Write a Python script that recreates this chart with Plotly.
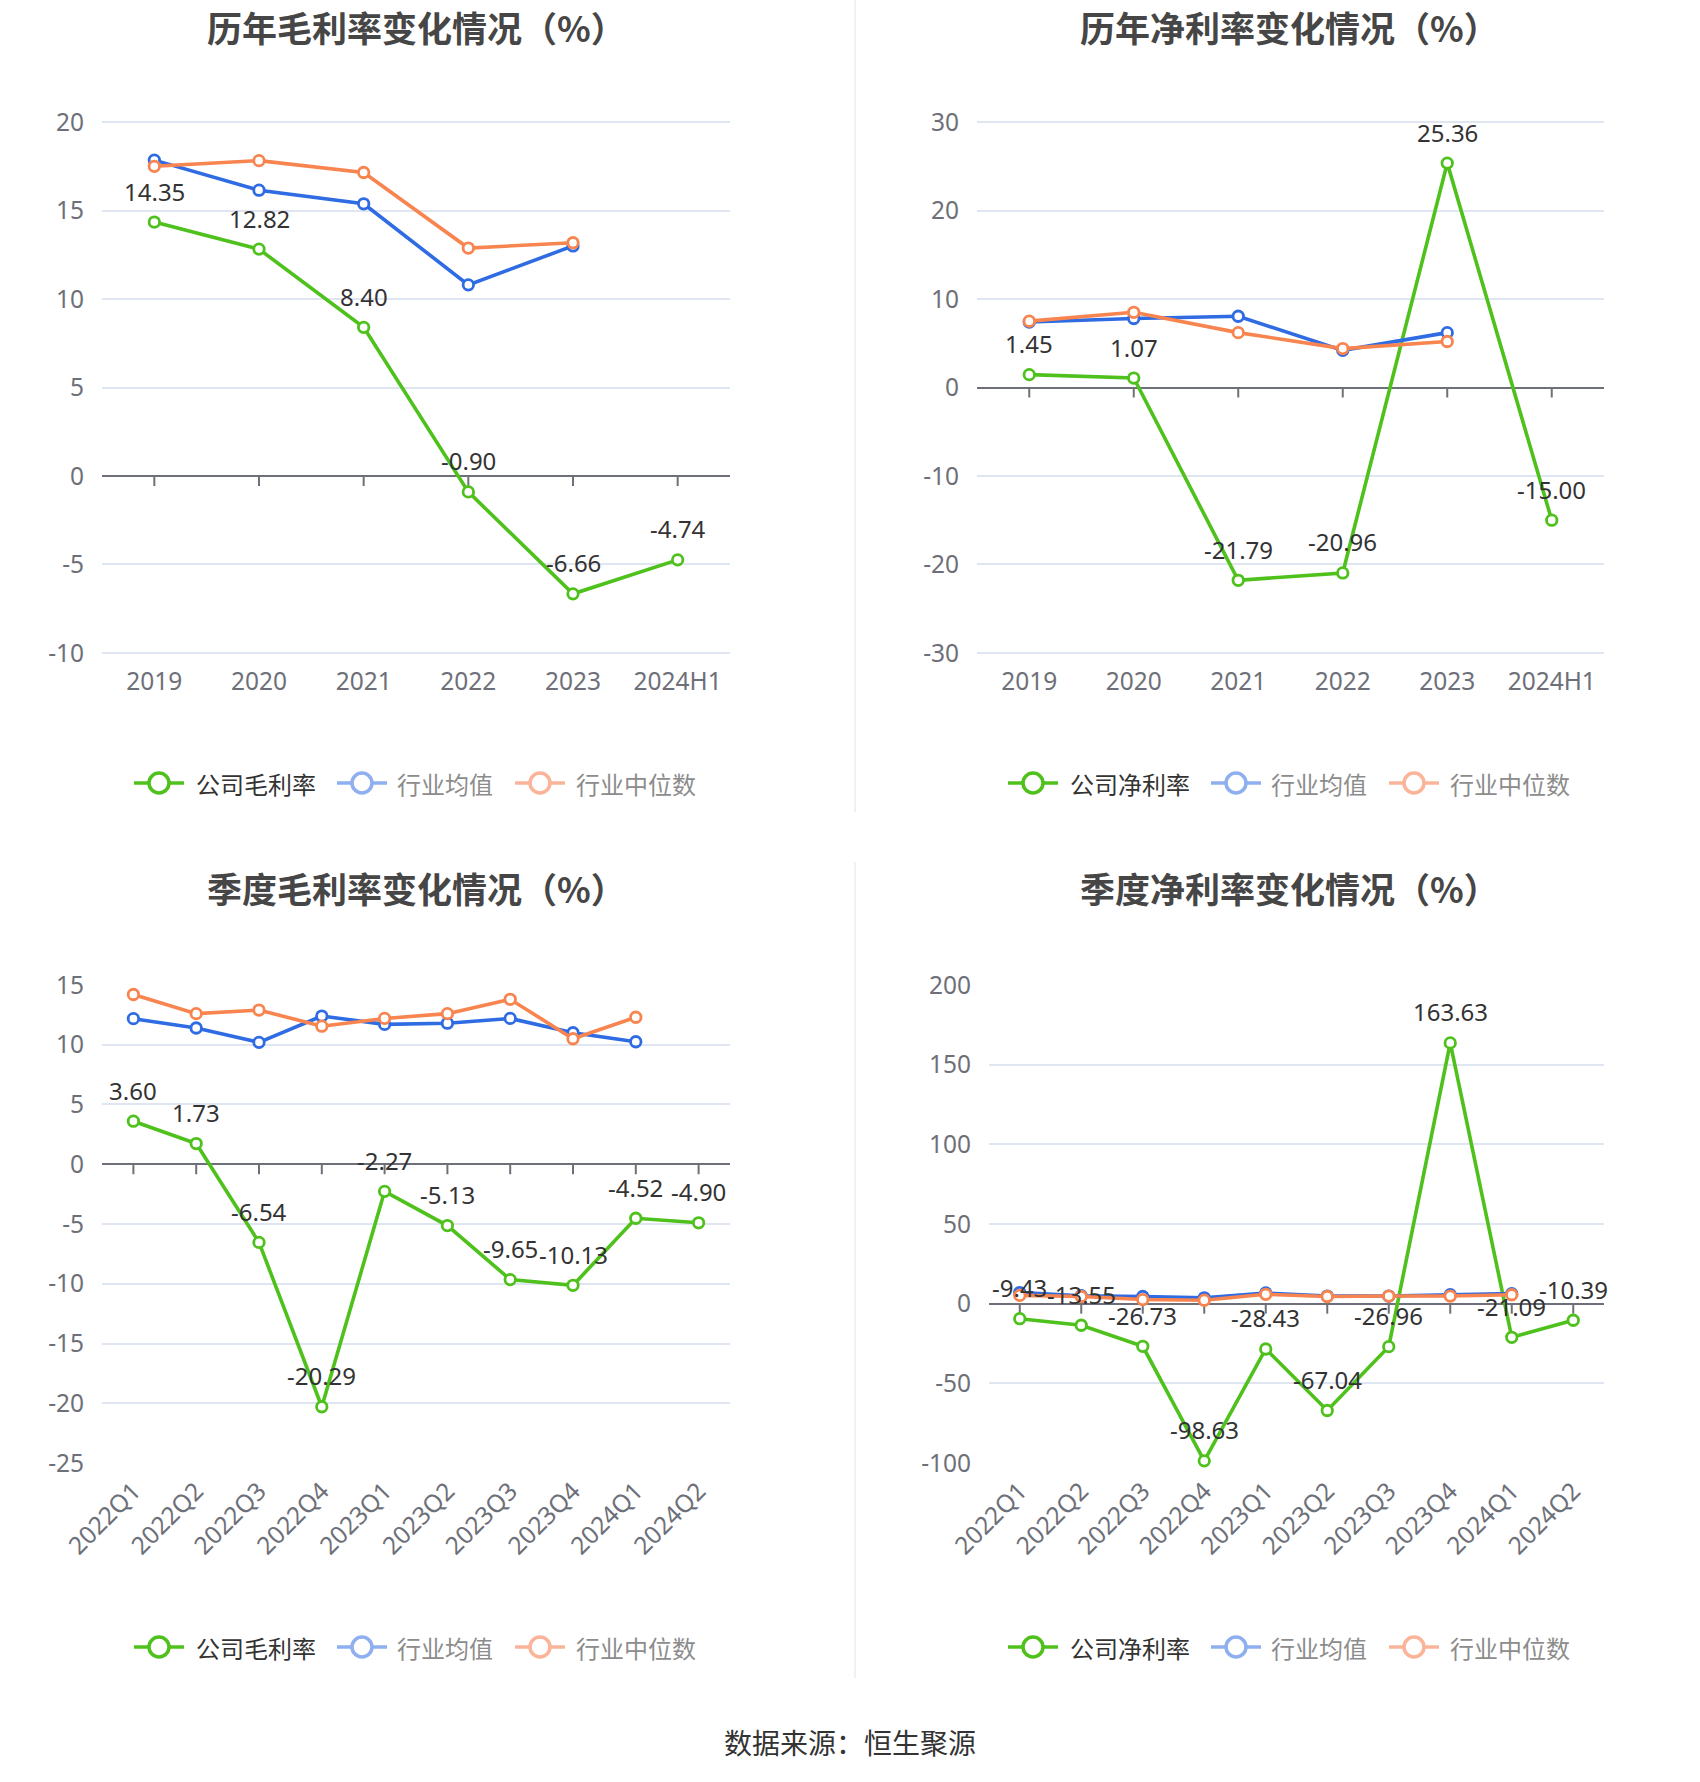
import plotly.graph_objects as go

# ---------------- data ----------------
years = ["2019", "2020", "2021", "2022", "2023", "2024H1"]
gm_company = [14.35, 12.82, 8.40, -0.90, -6.66, -4.74]
gm_mean = [17.85, 16.15, 15.38, 10.80, 13.00]
gm_median = [17.50, 17.82, 17.15, 12.88, 13.18]

nm_company = [1.45, 1.07, -21.79, -20.96, 25.36, -15.00]
nm_mean = [7.4, 7.8, 8.05, 4.2, 6.2]
nm_median = [7.5, 8.5, 6.2, 4.4, 5.2]

quarters = ["2022Q1", "2022Q2", "2022Q3", "2022Q4", "2023Q1", "2023Q2",
            "2023Q3", "2023Q4", "2024Q1", "2024Q2"]
qgm_company = [3.60, 1.73, -6.54, -20.29, -2.27, -5.13, -9.65, -10.13, -4.52, -4.90]
qgm_mean = [12.18, 11.4, 10.2, 12.4, 11.7, 11.8, 12.2, 11.0, 10.25]
qgm_median = [14.2, 12.6, 12.9, 11.55, 12.2, 12.6, 13.8, 10.5, 12.3]

qnm_company = [-9.43, -13.55, -26.73, -98.63, -28.43, -67.04, -26.96, 163.63, -21.09, -10.39]
qnm_mean = [7.0, 5.0, 4.5, 3.7, 6.7, 4.8, 4.8, 5.6, 6.3]
qnm_median = [5.2, 4.5, 2.6, 2.2, 5.9, 4.5, 4.8, 4.8, 5.6]

gm_ticks = [-10, -5, 0, 5, 10, 15, 20]
nm_ticks = [-30, -20, -10, 0, 10, 20, 30]
qgm_ticks = [-25, -20, -15, -10, -5, 0, 5, 10, 15]
qnm_ticks = [-100, -50, 0, 50, 100, 150, 200]

titles = ["历年毛利率变化情况（%）", "历年净利率变化情况（%）",
          "季度毛利率变化情况（%）", "季度净利率变化情况（%）"]
legend_names = [["公司毛利率", "行业均值", "行业中位数"],
                ["公司净利率", "行业均值", "行业中位数"],
                ["公司毛利率", "行业均值", "行业中位数"],
                ["公司净利率", "行业均值", "行业中位数"]]
source_text = "数据来源：恒生聚源"

# ---------------- style ----------------
W, H = 1700, 1782
FONT = "Noto Sans, Noto Sans CJK SC"
CJK = "Noto Sans CJK SC"
GREEN = "#4fc11c"
BLUE = "#2f6be3"
ORANGE = "#f8844f"
BLUE_L = "#8fb0f0"
ORANGE_L = "#fbb49a"
GRID = "#e0e6f1"
AXIS = "#6e7079"
LABEL = "#333333"
TICK_FS = 24.5
LABEL_FS = 24


def px_x(p):
    return p / W


def px_y(p):
    return 1 - p / H


panels = [
    dict(cats=years, comp=gm_company, mean=gm_mean, med=gm_median, ticks=gm_ticks,
         xd=(102, 730), yd=(121, 654), angle=0, xlen=6,
         title_x=416, title_y=27, leg_dx=0, leg_y=783),
    dict(cats=years, comp=nm_company, mean=nm_mean, med=nm_median, ticks=nm_ticks,
         xd=(977, 1604), yd=(121, 654), angle=0, xlen=6,
         title_x=1289, title_y=27, leg_dx=874, leg_y=783),
    dict(cats=quarters, comp=qgm_company, mean=qgm_mean, med=qgm_median, ticks=qgm_ticks,
         xd=(102, 730), yd=(984, 1464), angle=-45, xlen=2,
         title_x=416, title_y=888, leg_dx=0, leg_y=1647),
    dict(cats=quarters, comp=qnm_company, mean=qnm_mean, med=qnm_median, ticks=qnm_ticks,
         xd=(989, 1604), yd=(984, 1464), angle=-45, xlen=2,
         title_x=1289, title_y=888, leg_dx=874, leg_y=1647),
]

fig = go.Figure()
annotations = []
shapes = []
layout_axes = {}

for i, p in enumerate(panels):
    n = i + 1
    xa = "x" if n == 1 else f"x{n}"
    ya = "y" if n == 1 else f"y{n}"
    xkey = "xaxis" if n == 1 else f"xaxis{n}"
    ykey = "yaxis" if n == 1 else f"yaxis{n}"
    cats = p["cats"]
    idx = list(range(len(cats)))
    tv = p["ticks"]
    lo, hi = min(tv), max(tv)
    eps = (hi - lo) * 0.002

    layout_axes[xkey] = dict(
        domain=[px_x(p["xd"][0]), px_x(p["xd"][1])], anchor=ya,
        range=[-0.5, len(cats) - 0.5],
        tickmode="array", tickvals=idx, ticktext=cats,
        showgrid=False, showline=False, zeroline=False,
        ticks="outside", ticklen=p["xlen"], tickcolor="rgba(0,0,0,0)",
        tickangle=p["angle"], automargin=False,
        tickfont=dict(family=FONT, size=TICK_FS, color=AXIS),
        fixedrange=True,
    )
    layout_axes[ykey] = dict(
        domain=[px_y(p["yd"][1]), px_y(p["yd"][0])], anchor=xa,
        range=[lo - eps, hi + eps],
        tickmode="array", tickvals=tv, ticktext=[str(v) for v in tv],
        showgrid=True, gridcolor=GRID, gridwidth=1.5,
        zeroline=True, zerolinecolor=AXIS, zerolinewidth=2,
        showline=False, automargin=False,
        ticks="outside", ticklen=12, tickcolor="rgba(0,0,0,0)",
        tickfont=dict(family=FONT, size=TICK_FS, color=AXIS),
        fixedrange=True,
    )

    series = [
        (p["comp"], GREEN),
        (p["mean"], BLUE),
        (p["med"], ORANGE),
    ]
    for vals, col in series:
        fig.add_trace(go.Scatter(
            x=idx[:len(vals)], y=vals, xaxis=xa, yaxis=ya, mode="lines+markers",
            line=dict(color=col, width=3.6),
            marker=dict(symbol="circle", size=10.5, color="white",
                        line=dict(color=col, width=2.8)),
            showlegend=False, hoverinfo="skip", cliponaxis=False,
        ))

    # data labels for company series
    for k, v in zip(idx, p["comp"]):
        annotations.append(dict(
            x=k, y=v, xref=xa, yref=ya, text=f"{v:.2f}", showarrow=False,
            yshift=31, font=dict(family=FONT, size=LABEL_FS, color=LABEL),
        ))

    # axis ticks on zero line
    for k in idx:
        shapes.append(dict(
            type="line", xref=xa, yref=ya, x0=k, x1=k,
            ysizemode="pixel", yanchor=0, y0=0, y1=-10,
            line=dict(color=AXIS, width=2), layer="below",
        ))

    # title
    annotations.append(dict(
        x=px_x(p["title_x"]), y=px_y(p["title_y"]), xref="paper", yref="paper",
        text=f"<b>{titles[i]}</b>", showarrow=False, xanchor="center", yanchor="middle",
        font=dict(family=CJK, size=35, color="#464646"),
    ))

    # manual legend
    leg_items = [
        (legend_names[i][0], GREEN, "#333333", 159, 194),
        (legend_names[i][1], BLUE_L, "#8c8c8c", 362, 395),
        (legend_names[i][2], ORANGE_L, "#8c8c8c", 540, 574),
    ]
    ly = px_y(p["leg_y"])
    for name, lcol, tcol, cx, tx in leg_items:
        cx += p["leg_dx"]
        tx += p["leg_dx"]
        shapes.append(dict(
            type="line", xref="paper", yref="paper",
            x0=px_x(cx - 25), x1=px_x(cx + 25), y0=ly, y1=ly,
            line=dict(color=lcol, width=3.5),
        ))
        shapes.append(dict(
            type="circle", xref="paper", yref="paper",
            xsizemode="pixel", ysizemode="pixel",
            xanchor=px_x(cx), yanchor=ly, x0=-10, x1=10, y0=-10, y1=10,
            fillcolor="white", line=dict(color=lcol, width=3.5),
        ))
        annotations.append(dict(
            x=px_x(tx), y=ly, xref="paper", yref="paper", text=name,
            showarrow=False, xanchor="left", yanchor="middle",
            font=dict(family=CJK, size=24, color=tcol),
        ))

# divider lines
shapes.append(dict(type="line", xref="paper", yref="paper",
                   x0=px_x(855), x1=px_x(855), y0=px_y(0), y1=px_y(812),
                   line=dict(color="#ececec", width=1.5)))
shapes.append(dict(type="line", xref="paper", yref="paper",
                   x0=px_x(855), x1=px_x(855), y0=px_y(862), y1=px_y(1678),
                   line=dict(color="#ececec", width=1.5)))

# source
annotations.append(dict(
    x=px_x(850), y=px_y(1742), xref="paper", yref="paper", text=source_text,
    showarrow=False, xanchor="center", yanchor="middle",
    font=dict(family=CJK, size=28, color="#333333"),
))

fig.update_layout(
    width=W, height=H, autosize=False,
    margin=dict(l=0, r=0, t=0, b=0, pad=0),
    paper_bgcolor="white", plot_bgcolor="white",
    showlegend=False,
    font=dict(family=FONT),
    annotations=annotations, shapes=shapes,
    **layout_axes,
)

fig.write_html("out.html", config={"displayModeBar": False})
